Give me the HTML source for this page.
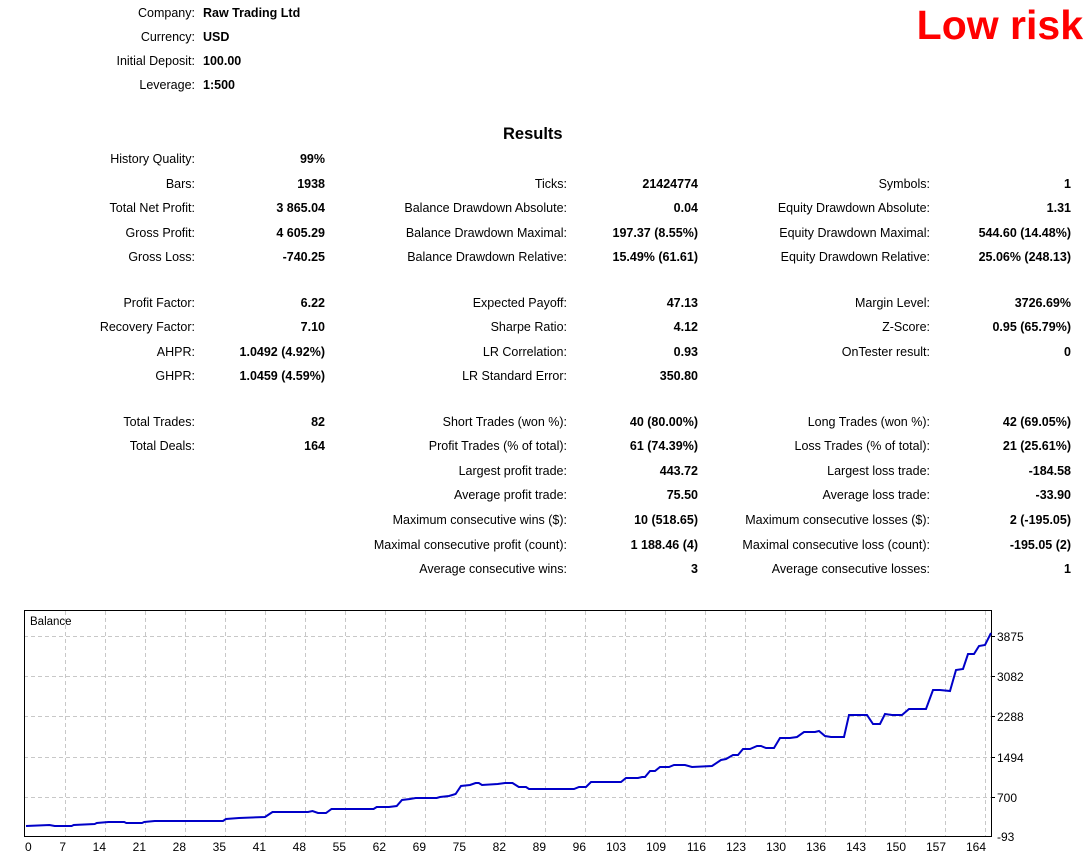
<!DOCTYPE html>
<html><head><meta charset="utf-8"><style>
body{margin:0;width:1092px;height:855px;background:#fff;position:relative;overflow:hidden;font-family:"Liberation Sans",sans-serif;font-size:12.5px;color:#000}
.t{position:absolute;line-height:16px;white-space:nowrap}
.b{font-weight:bold}
</style></head><body>
<div class="t" style="right:897px;top:5px">Company:</div><div class="t b" style="left:203px;top:5px">Raw Trading Ltd</div>
<div class="t" style="right:897px;top:29px">Currency:</div><div class="t b" style="left:203px;top:29px">USD</div>
<div class="t" style="right:897px;top:53px">Initial Deposit:</div><div class="t b" style="left:203px;top:53px">100.00</div>
<div class="t" style="right:897px;top:77px">Leverage:</div><div class="t b" style="left:203px;top:77px">1:500</div>
<div class="t b" style="right:9px;top:3px;line-height:44px;font-size:41px;color:#f00">Low risk</div>
<div class="t b" style="left:503px;top:124px;font-size:16.5px;line-height:20px">Results</div>

<div class="t" style="right:897px;top:151px">History Quality:</div><div class="t b" style="right:767px;top:151px">99%</div>

<div class="t" style="right:897px;top:176px">Bars:</div><div class="t b" style="right:767px;top:176px">1938</div>
<div class="t" style="right:525px;top:176px">Ticks:</div><div class="t b" style="right:394px;top:176px">21424774</div>
<div class="t" style="right:162px;top:176px">Symbols:</div><div class="t b" style="right:21px;top:176px">1</div>

<div class="t" style="right:897px;top:200px">Total Net Profit:</div><div class="t b" style="right:767px;top:200px">3 865.04</div>
<div class="t" style="right:525px;top:200px">Balance Drawdown Absolute:</div><div class="t b" style="right:394px;top:200px">0.04</div>
<div class="t" style="right:162px;top:200px">Equity Drawdown Absolute:</div><div class="t b" style="right:21px;top:200px">1.31</div>

<div class="t" style="right:897px;top:225px">Gross Profit:</div><div class="t b" style="right:767px;top:225px">4 605.29</div>
<div class="t" style="right:525px;top:225px">Balance Drawdown Maximal:</div><div class="t b" style="right:394px;top:225px">197.37 (8.55%)</div>
<div class="t" style="right:162px;top:225px">Equity Drawdown Maximal:</div><div class="t b" style="right:21px;top:225px">544.60 (14.48%)</div>

<div class="t" style="right:897px;top:249px">Gross Loss:</div><div class="t b" style="right:767px;top:249px">-740.25</div>
<div class="t" style="right:525px;top:249px">Balance Drawdown Relative:</div><div class="t b" style="right:394px;top:249px">15.49% (61.61)</div>
<div class="t" style="right:162px;top:249px">Equity Drawdown Relative:</div><div class="t b" style="right:21px;top:249px">25.06% (248.13)</div>

<div class="t" style="right:897px;top:295px">Profit Factor:</div><div class="t b" style="right:767px;top:295px">6.22</div>
<div class="t" style="right:525px;top:295px">Expected Payoff:</div><div class="t b" style="right:394px;top:295px">47.13</div>
<div class="t" style="right:162px;top:295px">Margin Level:</div><div class="t b" style="right:21px;top:295px">3726.69%</div>

<div class="t" style="right:897px;top:319px">Recovery Factor:</div><div class="t b" style="right:767px;top:319px">7.10</div>
<div class="t" style="right:525px;top:319px">Sharpe Ratio:</div><div class="t b" style="right:394px;top:319px">4.12</div>
<div class="t" style="right:162px;top:319px">Z-Score:</div><div class="t b" style="right:21px;top:319px">0.95 (65.79%)</div>

<div class="t" style="right:897px;top:344px">AHPR:</div><div class="t b" style="right:767px;top:344px">1.0492 (4.92%)</div>
<div class="t" style="right:525px;top:344px">LR Correlation:</div><div class="t b" style="right:394px;top:344px">0.93</div>
<div class="t" style="right:162px;top:344px">OnTester result:</div><div class="t b" style="right:21px;top:344px">0</div>

<div class="t" style="right:897px;top:368px">GHPR:</div><div class="t b" style="right:767px;top:368px">1.0459 (4.59%)</div>
<div class="t" style="right:525px;top:368px">LR Standard Error:</div><div class="t b" style="right:394px;top:368px">350.80</div>

<div class="t" style="right:897px;top:414px">Total Trades:</div><div class="t b" style="right:767px;top:414px">82</div>
<div class="t" style="right:525px;top:414px">Short Trades (won %):</div><div class="t b" style="right:394px;top:414px">40 (80.00%)</div>
<div class="t" style="right:162px;top:414px">Long Trades (won %):</div><div class="t b" style="right:21px;top:414px">42 (69.05%)</div>

<div class="t" style="right:897px;top:438px">Total Deals:</div><div class="t b" style="right:767px;top:438px">164</div>
<div class="t" style="right:525px;top:438px">Profit Trades (% of total):</div><div class="t b" style="right:394px;top:438px">61 (74.39%)</div>
<div class="t" style="right:162px;top:438px">Loss Trades (% of total):</div><div class="t b" style="right:21px;top:438px">21 (25.61%)</div>

<div class="t" style="right:525px;top:463px">Largest profit trade:</div><div class="t b" style="right:394px;top:463px">443.72</div>
<div class="t" style="right:162px;top:463px">Largest loss trade:</div><div class="t b" style="right:21px;top:463px">-184.58</div>

<div class="t" style="right:525px;top:487px">Average profit trade:</div><div class="t b" style="right:394px;top:487px">75.50</div>
<div class="t" style="right:162px;top:487px">Average loss trade:</div><div class="t b" style="right:21px;top:487px">-33.90</div>

<div class="t" style="right:525px;top:512px">Maximum consecutive wins ($):</div><div class="t b" style="right:394px;top:512px">10 (518.65)</div>
<div class="t" style="right:162px;top:512px">Maximum consecutive losses ($):</div><div class="t b" style="right:21px;top:512px">2 (-195.05)</div>

<div class="t" style="right:525px;top:537px">Maximal consecutive profit (count):</div><div class="t b" style="right:394px;top:537px">1 188.46 (4)</div>
<div class="t" style="right:162px;top:537px">Maximal consecutive loss (count):</div><div class="t b" style="right:21px;top:537px">-195.05 (2)</div>

<div class="t" style="right:525px;top:561px">Average consecutive wins:</div><div class="t b" style="right:394px;top:561px">3</div>
<div class="t" style="right:162px;top:561px">Average consecutive losses:</div><div class="t b" style="right:21px;top:561px">1</div>

<svg style="position:absolute;left:0;top:0" width="1092" height="855" font-family="Liberation Sans, sans-serif" font-size="12">
<g stroke="#c8c8c8" stroke-dasharray="4,3" stroke-width="1">
<line x1="24" x2="991" y1="636.5" y2="636.5"/><line x1="24" x2="991" y1="676.5" y2="676.5"/><line x1="24" x2="991" y1="716.5" y2="716.5"/><line x1="24" x2="991" y1="757.5" y2="757.5"/><line x1="24" x2="991" y1="797.5" y2="797.5"/>
<line y1="611" y2="836" x1="65.5" x2="65.5"/><line y1="611" y2="836" x1="105.5" x2="105.5"/><line y1="611" y2="836" x1="145.5" x2="145.5"/><line y1="611" y2="836" x1="185.5" x2="185.5"/><line y1="611" y2="836" x1="225.5" x2="225.5"/><line y1="611" y2="836" x1="265.5" x2="265.5"/><line y1="611" y2="836" x1="305.5" x2="305.5"/><line y1="611" y2="836" x1="345.5" x2="345.5"/><line y1="611" y2="836" x1="385.5" x2="385.5"/><line y1="611" y2="836" x1="425.5" x2="425.5"/><line y1="611" y2="836" x1="465.5" x2="465.5"/><line y1="611" y2="836" x1="505.5" x2="505.5"/><line y1="611" y2="836" x1="545.5" x2="545.5"/><line y1="611" y2="836" x1="585.5" x2="585.5"/><line y1="611" y2="836" x1="625.5" x2="625.5"/><line y1="611" y2="836" x1="665.5" x2="665.5"/><line y1="611" y2="836" x1="705.5" x2="705.5"/><line y1="611" y2="836" x1="745.5" x2="745.5"/><line y1="611" y2="836" x1="785.5" x2="785.5"/><line y1="611" y2="836" x1="825.5" x2="825.5"/><line y1="611" y2="836" x1="865.5" x2="865.5"/><line y1="611" y2="836" x1="905.5" x2="905.5"/><line y1="611" y2="836" x1="945.5" x2="945.5"/><line y1="611" y2="836" x1="985.5" x2="985.5"/>
</g>
<rect x="24.5" y="610.5" width="967" height="226" fill="none" stroke="#000"/>
<g stroke="#000"><line x1="991" x2="995" y1="636.5" y2="636.5"/><line x1="991" x2="995" y1="676.5" y2="676.5"/><line x1="991" x2="995" y1="716.5" y2="716.5"/><line x1="991" x2="995" y1="757.5" y2="757.5"/><line x1="991" x2="995" y1="797.5" y2="797.5"/></g>
<text x="30" y="625" font-size="11.5">Balance</text>
<g font-size="12">
<text x="997" y="641">3875</text><text x="997" y="681">3082</text><text x="997" y="721">2288</text><text x="997" y="762">1494</text><text x="997" y="802">700</text><text x="997" y="841">-93</text>
</g>
<text x="25" y="851">0</text>
<g font-size="12" text-anchor="end">
<text x="66" y="851">7</text><text x="106" y="851">14</text><text x="146" y="851">21</text><text x="186" y="851">28</text><text x="226" y="851">35</text><text x="266" y="851">41</text><text x="306" y="851">48</text><text x="346" y="851">55</text><text x="386" y="851">62</text><text x="426" y="851">69</text><text x="466" y="851">75</text><text x="506" y="851">82</text><text x="546" y="851">89</text><text x="586" y="851">96</text><text x="626" y="851">103</text><text x="666" y="851">109</text><text x="706" y="851">116</text><text x="746" y="851">123</text><text x="786" y="851">130</text><text x="826" y="851">136</text><text x="866" y="851">143</text><text x="906" y="851">150</text><text x="946" y="851">157</text><text x="986" y="851">164</text>
</g>
<polyline fill="none" stroke="#0000c8" stroke-width="2" points="26,826 49.5,825 54.7,826 71.6,826 73.7,825 94.7,824 96.8,823 108.4,822 124.2,822 126.3,823 142,823 144.2,822 154.7,821 223,821 226,819 239,818 265,817 268,815 272.5,812 308,812 312.5,811 318,813 326,813 331.5,809 373.6,809 376.7,807 389,807 396.7,806 402,800 410,799 415.7,798 436.7,798 440,797 449,796 455.6,794 461,786 470,785 475.6,783 478.8,783 482,785 497.7,784 505,783 512.5,783 518.8,787 526,787 529,789 544,789 550,789 574,789 579,787 586,787 591,782 621,782 626,778 638,778 642,777 645,777 650,771 655,771 660,767 669,767 674,765 685,765 692,767 712,766 721,760 726,759 733,755 738,755 743,749 750,749 757,746 761,746 766,748 774,748 780,738 790,738 797,737 804,732 815,732 819,731 825,736 831,737 844,737 849,715 867,715 873,724 880,724 885,714 892,715 902,715 909,709 914,709 926,709 933,690 940,690 950,691 956,670 963,669 968,654 974,654 979,646 985,645 991,633"/>
</svg>
</body></html>
